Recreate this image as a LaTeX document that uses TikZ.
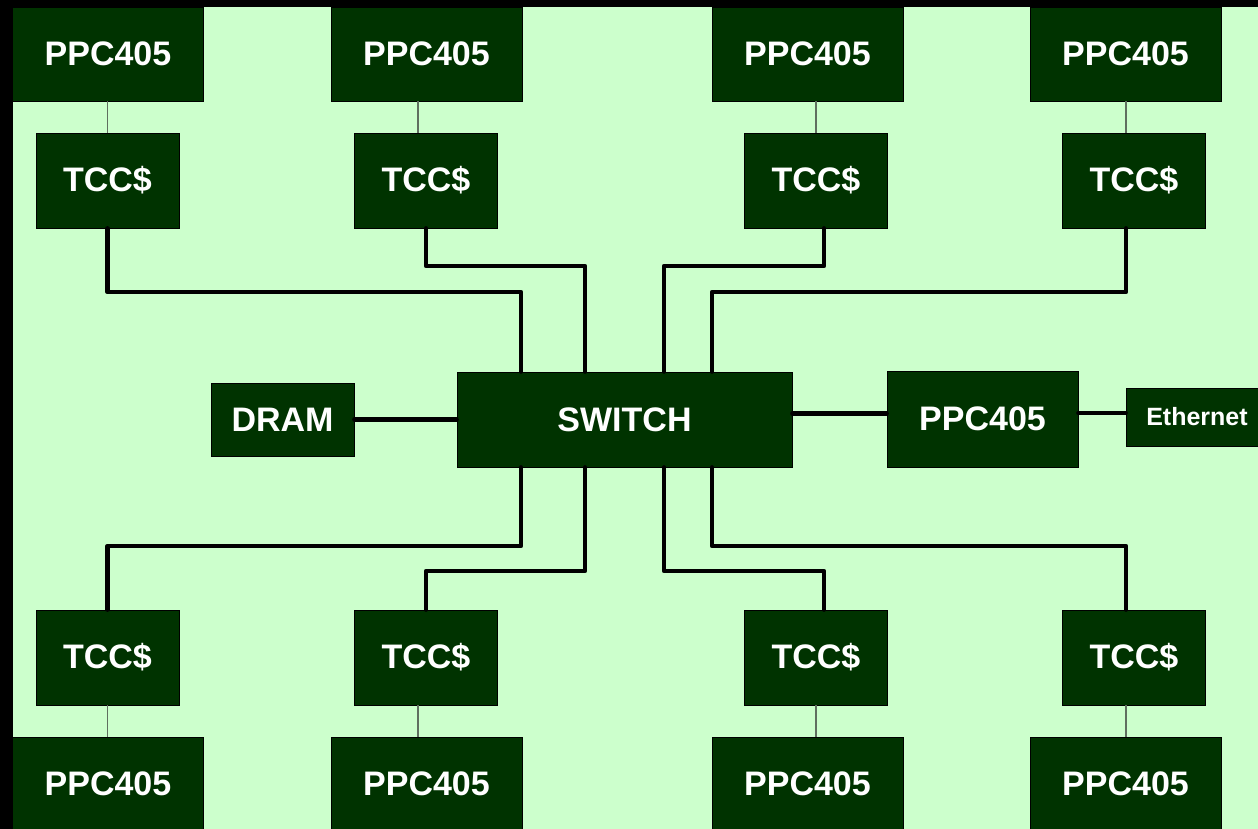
\documentclass[tikz,border=0pt]{standalone}
\usepackage{fontspec}
\setmainfont{Liberation Sans}
\definecolor{bg}{HTML}{CCFFCC}
\definecolor{boxg}{HTML}{003300}
\definecolor{thinl}{HTML}{5F6F5F}
\begin{document}
\begin{tikzpicture}[x=1pt,y=-1pt,
  blk/.style={draw=black,line width=0.8pt,fill=boxg,text=white,
    font=\bfseries\fontsize{34}{40}\selectfont,inner sep=0pt,anchor=center},
  ppc/.style={blk,minimum width=191pt,minimum height=94pt},
  tcc/.style={blk,minimum width=143pt,minimum height=95pt},
  bus/.style={line width=4.5pt,line cap=round,line join=round},
  link/.style={line width=1.5pt,draw=thinl}]
\fill[black] (0,0) rectangle (1258,829);
\fill[bg] (13,7) rectangle (1258,829);
\useasboundingbox (0,0) rectangle (1258,829);

% top row
\node[ppc] (p1) at (108,54) {PPC405};
\node[ppc] (p2) at (426.5,54) {PPC405};
\node[ppc] (p3) at (807.5,54) {PPC405};
\node[ppc] (p4) at (1125.5,54) {PPC405};
\node[tcc] (t1) at (107.5,180.5) {TCC\$};
\node[tcc] (t2) at (426,180.5) {TCC\$};
\node[tcc] (t3) at (816,180.5) {TCC\$};
\node[tcc] (t4) at (1134,180.5) {TCC\$};
% bottom row
\node[tcc] (b1) at (107.5,657.5) {TCC\$};
\node[tcc] (b2) at (426,657.5) {TCC\$};
\node[tcc] (b3) at (816,657.5) {TCC\$};
\node[tcc] (b4) at (1134,657.5) {TCC\$};
\node[ppc] (q1) at (108,784) {PPC405};
\node[ppc] (q2) at (426.5,784) {PPC405};
\node[ppc] (q3) at (807.5,784) {PPC405};
\node[ppc] (q4) at (1125.5,784) {PPC405};
% middle row
\node[blk,minimum width=143pt,minimum height=73pt] (dram) at (282.5,419.5) {DRAM};
\node[blk,minimum width=335pt,minimum height=95pt] (sw) at (624.5,419.5) {SWITCH};
\node[blk,minimum width=191pt,minimum height=96pt] (pm) at (982.5,419) {PPC405};
\node[blk,minimum width=142pt,minimum height=58pt,font=\bfseries\fontsize{25}{30}\selectfont] (eth) at (1197,417) {Ethernet};

% thin links PPC -- TCC
\draw[link] (t1.north) -- (t1.north |- p1.south);
\draw[link] ([xshift=-8pt]t2.north) -- ([xshift=-8pt]t2.north |- p2.south);
\draw[link] (t3.north) -- (t3.north |- p3.south);
\draw[link] ([xshift=-8pt]t4.north) -- ([xshift=-8pt]t4.north |- p4.south);
\draw[link] (b1.south) -- (b1.south |- q1.north);
\draw[link] ([xshift=-8pt]b2.south) -- ([xshift=-8pt]b2.south |- q2.north);
\draw[link] (b3.south) -- (b3.south |- q3.north);
\draw[link] ([xshift=-8pt]b4.south) -- ([xshift=-8pt]b4.south |- q4.north);

% bus kinks
\coordinate (k1) at (521,292);
\coordinate (k2) at (585,266);
\coordinate (k3) at (664,266);
\coordinate (k4) at (712,292);
\coordinate (m1) at (521,546);
\coordinate (m2) at (585,571);
\coordinate (m3) at (664,571);
\coordinate (m4) at (712,546);

\draw[bus] (t1.south) |- (k1) -- (k1 |- sw.north);
\draw[bus] (t2.south) |- (k2) -- (k2 |- sw.north);
\draw[bus] ([xshift=8pt]t3.south) |- (k3) -- (k3 |- sw.north);
\draw[bus] ([xshift=-8pt]t4.south) |- (k4) -- (k4 |- sw.north);
\draw[bus] (b1.north) |- (m1) -- (m1 |- sw.south);
\draw[bus] (b2.north) |- (m2) -- (m2 |- sw.south);
\draw[bus] ([xshift=8pt]b3.north) |- (m3) -- (m3 |- sw.south);
\draw[bus] ([xshift=-8pt]b4.north) |- (m4) -- (m4 |- sw.south);

\coordinate (se) at ([yshift=6pt]sw.east);
\coordinate (ew) at ([yshift=4pt]eth.west);
\draw[bus] (dram.east) -- (sw.west |- dram.east);
\draw[bus] (se) -- (se -| pm.west);
\draw[bus] (pm.east |- ew) -- (ew);
\end{tikzpicture}
\end{document}
